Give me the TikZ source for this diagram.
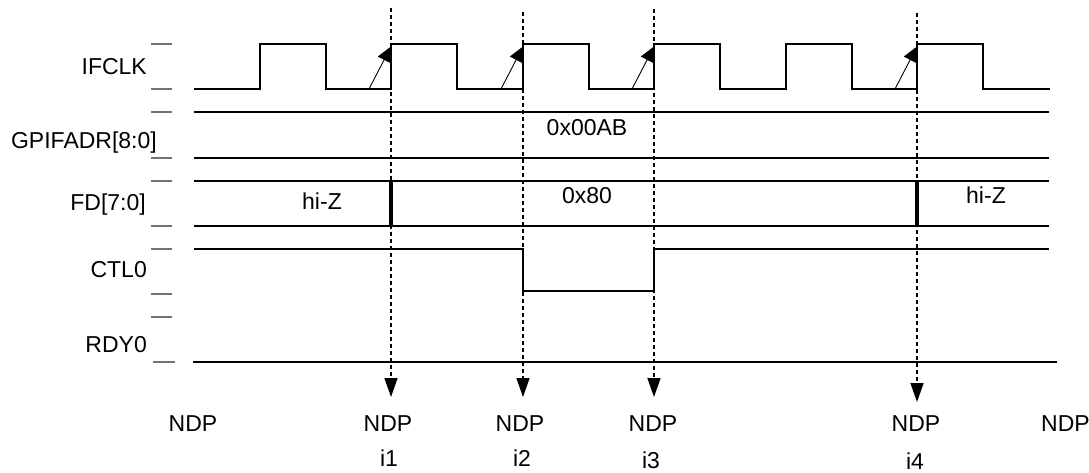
\documentclass[tikz,border=0pt]{standalone}
\usepackage{fontspec}
\setmainfont{Liberation Sans}
\usetikzlibrary{arrows.meta}
\tikzset{
  sig/.style={line width=1.8pt, line join=miter},
  tickmark/.style={line width=1.4pt, black!55},
  marker/.style={dash pattern=on 4pt off 3pt, line width=1.5pt, -{Triangle[length=19pt,width=13pt]}},
  edgearrow/.style={line width=0.9pt, -{Triangle[length=15pt,width=14pt]}},
  lbl/.style={inner sep=0pt, font=\fontsize{23}{27}\selectfont},
  zbar/.style={line width=4.3pt, line cap=round}
}
\begin{document}
\begin{tikzpicture}[x=1pt,y=-1pt]
\useasboundingbox (0,0) rectangle (1089,472);
% signal labels
\node[lbl, anchor=base east] (lifclk) at (147,74) {IFCLK};
\node[lbl, anchor=base east] (lgpif) at (157,148) {GPIFADR[8:0]};
\node[lbl, anchor=base east] (lfd) at (146,210) {FD[7:0]};
\node[lbl, anchor=base east] (lctl) at (147,277) {CTL0};
\node[lbl, anchor=base east] (lrdy) at (147,352) {RDY0};
% ticks
\foreach \y in {44,89,112,158,181,226,249,294,317}
  \draw[tickmark] (151,\y) -- (172,\y);
\draw[tickmark] (153,362) -- (175,362);
% IFCLK
\draw[sig] (194,89) -- (260,89) -- (260,44) -- (326,44) -- (326,89) -- (391,89) -- (391,44) -- (457,44) -- (457,89) -- (523,89) -- (523,44) -- (589,44) -- (589,89) -- (654,89) -- (654,44) -- (720,44) -- (720,89) -- (786,89) -- (786,44) -- (852,44) -- (852,89) -- (917,89) -- (917,44) -- (983,44) -- (983,89) -- (1050,89);
% GPIFADR
\draw[sig] (194,112) -- (1049,112);
\draw[sig] (194,158) -- (1049,158);
% FD
\draw[sig] (194,181) -- (1049,181);
\draw[sig] (194,226) -- (1049,226);
\draw[zbar] (391,182) -- (391,225);
\draw[zbar] (917,182) -- (917,225);
% CTL0
\draw[sig] (194,249) -- (523,249) -- (523,291) -- (654,291) -- (654,249) -- (1049,249);
% RDY0
\draw[sig] (193,362) -- (1057,362);
% rising edge markers
\foreach \x in {391,523,654,917}
  \draw[edgearrow] (\x-22,89) -- (\x,46.5);
% value texts
\node[lbl, anchor=base] (vadr) at (587,135) {0x00AB};
\node[lbl, anchor=base] (vhz1) at (322,209) {hi-Z};
\node[lbl, anchor=base] (v80) at (587,203) {0x80};
\node[lbl, anchor=base] (vhz2) at (986,203) {hi-Z};
% NDP labels
\node[lbl, anchor=base] (n0) at (193,431) {NDP};
\node[lbl, anchor=base] (n1) at (388,431) {NDP};
\node[lbl, anchor=base] (n2) at (520,431) {NDP};
\node[lbl, anchor=base] (n3) at (653,431) {NDP};
\node[lbl, anchor=base] (n4) at (916,431) {NDP};
\node[lbl, anchor=base west] (n5) at (1041,431) {NDP};
\node[lbl, anchor=base] (i1) at (389,466) {i1};
\node[lbl, anchor=base] (i2) at (522,466) {i2};
\node[lbl, anchor=base] (i3) at (651,468) {i3};
\node[lbl, anchor=base] (i4) at (915,469) {i4};
% dashed markers
\coordinate (t1) at (391,8);   \coordinate (p1) at (391,397);
\coordinate (t2) at (523,12);  \coordinate (p2) at (523,397);
\coordinate (t3) at (654,9);   \coordinate (p3) at (654,397);
\coordinate (t4) at (917,13);  \coordinate (p4) at (917,402);
\draw[marker] (t1) -- (p1);
\draw[marker] (t2) -- (p2);
\draw[marker] (t3) -- (p3);
\draw[marker] (t4) -- (p4);
\end{tikzpicture}
\end{document}
